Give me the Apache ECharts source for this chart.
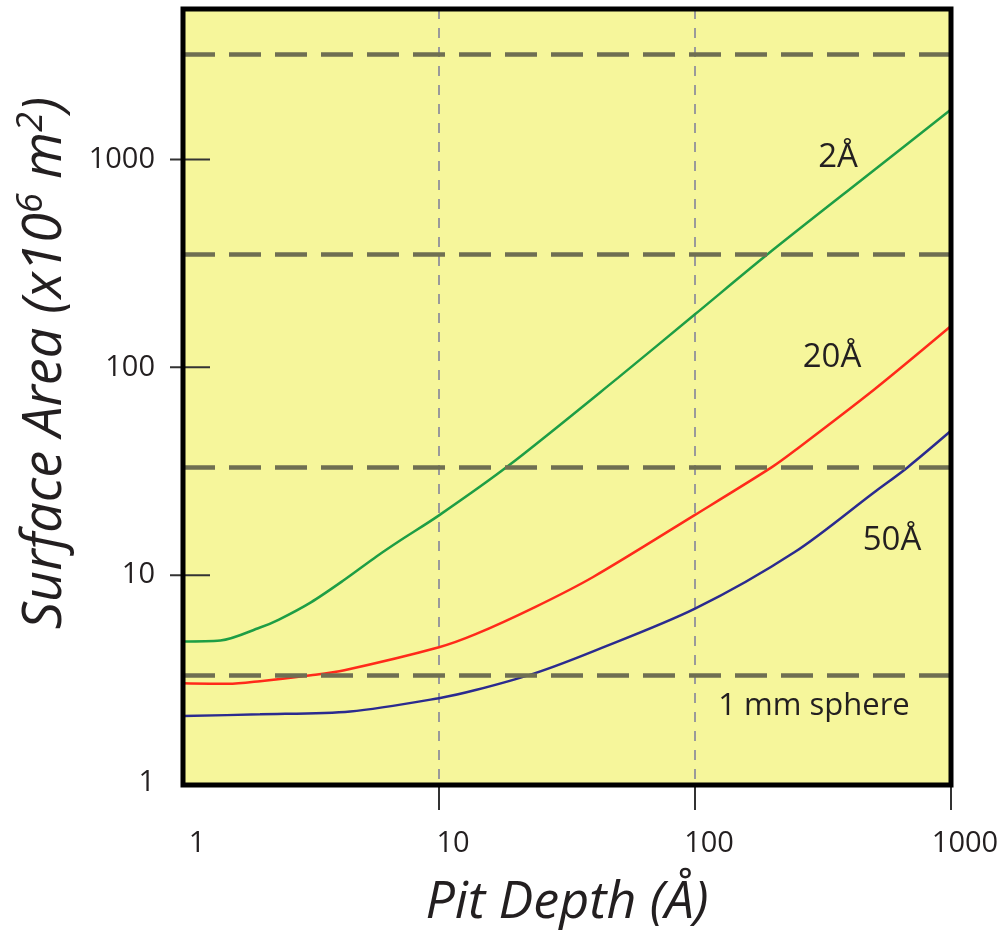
<!DOCTYPE html>
<html>
<head>
<meta charset="utf-8">
<title>Surface Area vs Pit Depth</title>
<script src="https://cdn.jsdelivr.net/npm/echarts@6.0.0/dist/echarts.min.js"></script>
<style>
  html, body { margin: 0; padding: 0; background: #fff; }
  #area_pits { width: 1008px; height: 934px; }
</style>
</head>
<body>
<div id="area_pits"></div>
<script>
// Tick labels
var xTickLabels = ['1', '10', '100', '1000'];
var yTickLabels = ['1', '10', '100', '1000'];

// Curves: pit depth (A) -> surface area (x10^6 m^2)
var green2Depth = [1, 1.4, 2, 2.36, 3.16, 4.27, 5.7, 7, 10, 18.6, 50, 100, 192, 500, 1000];
var green2Area = [4.8, 4.85, 5.6, 6.1, 7.4, 9.5, 12.3, 14.6, 19.4, 33.5, 89, 180, 350, 888, 1740];

var red20Depth = [1, 1.5, 2, 3.16, 4.27, 10, 13.9, 23.6, 40, 100, 199, 247, 500, 1000];
var red20Area = [3.02, 3.0, 3.09, 3.3, 3.49, 4.5, 5.2, 7.0, 9.8, 19.5, 33, 40, 78, 158];

var blue50Depth = [1, 2, 4.5, 10, 13.9, 23.6, 40, 100, 247, 500, 676, 1000];
var blue50Area = [2.1, 2.14, 2.21, 2.56, 2.8, 3.37, 4.3, 6.9, 13, 25, 33, 49.5];

// Dashed reference levels
var refLevels = [3.3, 33, 350, 3200];

var yMax = 5300;

// Plot frame
var gridLeft = 183, gridTop = 9, gridRight = 57, gridBottom = 149;
var chartW = 1008, chartH = 934;
var plotW = chartW - gridLeft - gridRight, plotH = chartH - gridTop - gridBottom;

var pairs = function(xs, ys) {
    return xs.map(function(x, i) { return [x, ys[i]]; });
};

var isPow10 = function(v) {
    var l = Math.log(v) / Math.LN10;
    return Math.abs(l - Math.round(l)) < 1e-6;
};

var chartEl = document.getElementById('area_pits');
var chart = echarts.init(chartEl);

var fontFam = '"Open Sans", "Noto Sans", sans-serif';
var textDark = '#231f20';

chart.setOption({
    animation: false,
    textStyle: { fontFamily: fontFam },

    // Setup grid
    grid: {
        left: gridLeft,
        right: gridRight,
        top: gridTop,
        bottom: gridBottom,
        show: false
    },

    // Horizontal axis
    xAxis: [{
        type: 'log',
        logBase: 10,
        min: 1,
        max: 1000,
        name: 'Pit Depth (Å)',
        nameLocation: 'middle',
        nameGap: 94,
        nameTextStyle: {
            fontSize: 52,
            fontStyle: 'italic',
            color: textDark,
            fontFamily: fontFam
        },
        axisLine: { show: false },
        axisTick: { show: false },
        axisLabel: {
            margin: 46,
            fontSize: 29,
            color: textDark,
            padding: [0, 0, 0, 28],
            formatter: function(v) {
                var s = String(Math.round(v));
                return isPow10(v) && xTickLabels.indexOf(s) >= 0 ? s : '';
            }
        },
        splitLine: {
            show: true,
            lineStyle: { color: '#9a9a9a', width: 2, type: [10, 9] }
        }
    }],

    // Vertical axis
    yAxis: [{
        type: 'log',
        logBase: 10,
        min: 1,
        max: yMax,
        name: 'Surface Area (x10{sup|6} m{sup|2})',
        nameLocation: 'middle',
        nameGap: 82,
        nameTextStyle: {
            fontSize: 54,
            fontStyle: 'italic',
            color: textDark,
            fontFamily: fontFam,
            lineHeight: 64,
            padding: [0, 0, 0, 66],
            rich: {
                sup: {
                    fontSize: 36,
                    fontStyle: 'italic',
                    color: textDark,
                    fontFamily: fontFam,
                    verticalAlign: 'top',
                    lineHeight: 36
                }
            }
        },
        axisLine: { show: false },
        axisTick: { show: false },
        axisLabel: {
            margin: 28,
            fontSize: 29,
            color: textDark,
            formatter: function(v) {
                var s = String(Math.round(v));
                return isPow10(v) && yTickLabels.indexOf(s) >= 0 ? s : '';
            }
        },
        splitLine: { show: false }
    }],

    // Add series
    series: [
        {
            name: 'levels',
            type: 'line',
            data: [],
            silent: true,
            markLine: {
                silent: true,
                symbol: 'none',
                label: { show: false },
                lineStyle: { color: '#6f6f52', width: 4.5, type: [32, 14] },
                data: refLevels.map(function(v) { return { yAxis: v }; })
            }
        },
        {
            name: '2Å',
            type: 'line',
            data: pairs(green2Depth, green2Area),
            smooth: 0.3,
            showSymbol: false,
            lineStyle: { color: '#1e9e45', width: 2.5 }
        },
        {
            name: '20Å',
            type: 'line',
            data: pairs(red20Depth, red20Area),
            smooth: 0.3,
            showSymbol: false,
            lineStyle: { color: '#ff2a1a', width: 2.5 }
        },
        {
            name: '50Å',
            type: 'line',
            data: pairs(blue50Depth, blue50Area),
            smooth: 0.3,
            showSymbol: false,
            lineStyle: { color: '#2b2b8f', width: 2.5 }
        }
    ]
});

//
// Tick marks (placed through the axis scales), frame and curve labels
//
var tickStyle = { stroke: '#333', lineWidth: 2 };
var plotBottom = gridTop + plotH;
var graphics = [
    {
        type: 'rect', z: -10, silent: true,
        shape: { x: gridLeft, y: gridTop, width: plotW, height: plotH },
        style: { fill: '#f6f69b' }
    }
];

// Y ticks cross the left border: 13px out, 27px in
yTickLabels.slice(1).forEach(function(lbl) {
    var py = chart.convertToPixel({ yAxisIndex: 0 }, Number(lbl));
    graphics.push({
        type: 'line', z: 50, silent: true,
        shape: { x1: gridLeft - 13, y1: py, x2: gridLeft + 27, y2: py },
        style: tickStyle
    });
});

// X ticks hang below the bottom border
xTickLabels.slice(1).forEach(function(lbl) {
    var px = chart.convertToPixel({ xAxisIndex: 0 }, Number(lbl));
    graphics.push({
        type: 'line', z: 50, silent: true,
        shape: { x1: px, y1: plotBottom, x2: px, y2: plotBottom + 25 },
        style: tickStyle
    });
});

graphics.push(
    {
        type: 'rect', z: 100, silent: true,
        shape: { x: gridLeft, y: gridTop, width: plotW, height: plotH },
        style: { fill: null, stroke: '#000', lineWidth: 5 }
    },
    { type: 'text', x: 838, y: 158, z: 60, style: { text: '2Å', font: '33px ' + fontFam, fill: textDark, align: 'center', verticalAlign: 'middle' } },
    { type: 'text', x: 832, y: 358, z: 60, style: { text: '20Å', font: '33px ' + fontFam, fill: textDark, align: 'center', verticalAlign: 'middle' } },
    { type: 'text', x: 892, y: 541, z: 60, style: { text: '50Å', font: '33px ' + fontFam, fill: textDark, align: 'center', verticalAlign: 'middle' } },
    { type: 'text', x: 814, y: 706, z: 60, style: { text: '1 mm sphere', font: '31px ' + fontFam, fill: textDark, align: 'center', verticalAlign: 'middle' } }
);

chart.setOption({ graphic: graphics });
</script>
</body>
</html>
